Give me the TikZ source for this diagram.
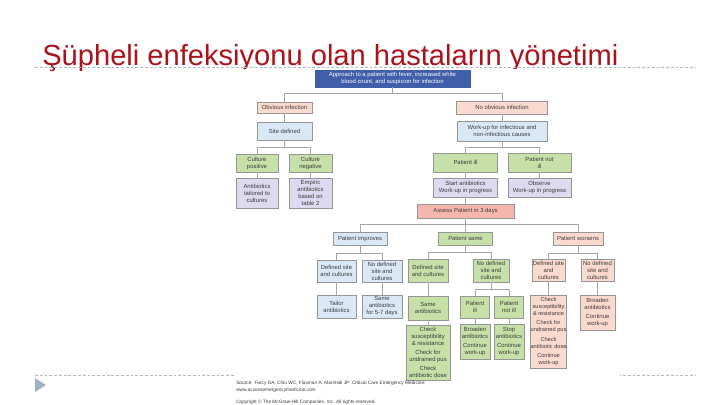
\documentclass[tikz,border=0pt]{standalone}
\usepackage{fontspec}
\setmainfont{Liberation Sans}
\newlength{\unitpx}
\setlength{\unitpx}{0.025cm}
\definecolor{hdblue}{RGB}{64,94,170}
\definecolor{peach}{RGB}{250,218,206}
\definecolor{paleblue}{RGB}{218,232,246}
\definecolor{leaf}{RGB}{198,224,168}
\definecolor{lilac}{RGB}{220,218,238}
\definecolor{salmon}{RGB}{245,183,172}
\definecolor{edge}{RGB}{150,150,150}
\definecolor{wire}{RGB}{165,165,165}
\definecolor{ink}{RGB}{60,60,60}
\definecolor{titlered}{RGB}{172,18,26}
\definecolor{rulegray}{RGB}{175,185,195}
\definecolor{bullet}{RGB}{160,178,198}
\tikzset{
    box/.style={draw=edge, line width=0.35pt, inner sep=0pt, align=center, text=ink, font=\fontsize{4.2}{5}\selectfont},
    tight/.style={font=\fontsize{4}{5}\selectfont},
    wh/.style 2 args={minimum width=#1\unitpx, minimum height=#2\unitpx},
    link/.style={wire, line width=0.4pt},
    slide rule/.style={rulegray, line width=0.5pt, dash pattern=on 2pt off 1.4pt}
}
\begin{document}
\begin{tikzpicture}[x=0.025cm, y=-0.025cm]
\useasboundingbox (0,0) rectangle (720,405);
\fill[white] (0,0) rectangle (720,405);

% slide title and rules
\node[anchor=base west, inner sep=0, text=titlered, font=\fontsize{20.7}{24}\selectfont] (title) at (42,66) {Şüpheli enfeksiyonu olan hastaların yönetimi};
\draw[slide rule] (35,67) -- (695,67);
\draw[slide rule] (35,375) -- (695,375);
\fill[bullet] (35,378) -- (35,392) -- (46,385) -- cycle;
\fill[white] (234,69) rectangle (620,405);

% flowchart
\node[box, wh={155}{17}, fill=hdblue, text=white, draw=hdblue] (top) at (392.5,78.5) {Approach to a patient with fever, increased white\\blood count, and suspicion for infection};
\node[box, wh={55}{11}, fill=peach] (obv) at (284.5,107.5) {Obvious infection};
\node[box, wh={55}{18}, fill=paleblue] (site) at (284.5,131) {Site defined};
\node[box, wh={42}{18}, fill=leaf] (cpos) at (257,163) {Culture\\positive};
\node[box, wh={43}{18}, fill=leaf] (cneg) at (310.5,163) {Culture\\negative};
\node[box, wh={42}{30}, fill=lilac] (tail) at (257,193) {Antibiotics\\tailored to\\cultures};
\node[box, wh={43}{30}, fill=lilac] (emp) at (310.5,193) {Empiric\\antibiotics\\based on\\table 2};

\node[box, wh={91}{13}, fill=peach] (nobv) at (502,107.5) {No obvious infection};
\node[box, wh={90}{20}, fill=paleblue] (work) at (502,131) {Work-up for infectious and\\non-infectious causes};
\node[box, wh={64}{19}, fill=leaf] (pill) at (465.5,162.5) {Patient ill};
\node[box, wh={63}{19}, fill=leaf] (pnot) at (539.5,162.5) {Patient not\\ill};
\node[box, wh={64}{19}, fill=lilac] (start) at (465.5,187.5) {Start antibiotics\\Work-up in progress};
\node[box, wh={63}{19}, fill=lilac] (obs) at (539.5,187.5) {Observe\\Work-up in progress};
\node[box, wh={97}{14}, fill=salmon] (assess) at (465.5,211) {Assess Patient in 3 days};

\node[box, wh={54}{13}, fill=paleblue] (impr) at (360,238.5) {Patient improves};
\node[box, wh={54}{13}, fill=leaf] (same) at (465.5,238.5) {Patient same};
\node[box, wh={50}{13}, fill=peach] (wors) at (578,238.5) {Patient worsens};

\node[box, wh={39}{22}, fill=paleblue] (idef) at (336.5,271) {Defined site\\and cultures};
\node[box, wh={40}{22}, fill=paleblue] (indef) at (382,271) {No defined\\site and\\cultures};
\node[box, wh={39}{23}, fill=paleblue] (itail) at (336.5,306.5) {Tailor\\antibiotics};
\node[box, wh={40}{23}, fill=paleblue] (isame) at (382,306.5) {Same\\antibiotics\\for 5-7 days};

\node[box, wh={40}{23}, fill=leaf] (sdef) at (428,270.5) {Defined site\\and cultures};
\node[box, wh={36}{23}, fill=leaf] (sndef) at (491,270.5) {No defined\\site and\\cultures};
\node[box, wh={40}{24}, fill=leaf] (ssame) at (428,308) {Same\\antibiotics};
\node[box, wh={44}{55}, fill=leaf] (scheck) at (428,352.5) {Check\\susceptibility\\\& resistance\\[1.5pt]Check for\\undrained pus\\[1.5pt]Check\\antibiotic dose};
\node[box, wh={29}{22}, fill=leaf] (sill) at (475,307) {Patient\\ill};
\node[box, wh={29}{22}, fill=leaf] (snot) at (509,307) {Patient\\not ill};
\node[box, wh={30}{35}, fill=leaf] (sbroad) at (475,341.5) {Broaden\\antibiotics\\[1.5pt]Continue\\work-up};
\node[box, wh={30}{35}, fill=leaf] (sstop) at (509,341.5) {Stop\\antibiotics\\[1.5pt]Continue\\work-up};

\node[box, wh={33}{22}, fill=peach] (wdef) at (548.5,270) {Defined site\\and\\cultures};
\node[box, wh={33}{22}, fill=peach] (wndef) at (597.5,270) {No defined\\site and\\cultures};
\node[box, tight, wh={36}{73}, fill=peach] (wcheck) at (548.5,331.5) {Check\\susceptibility\\\& resistance\\[1.5pt]Check for\\undrained pus\\[1.5pt]Check\\antibiotic dose\\[1.5pt]Continue\\work-up};
\node[box, wh={35}{35}, fill=peach] (wbroad) at (597.5,312.5) {Broaden\\antibiotics\\[1.5pt]Continue\\work-up};

% connectors
\draw[link] (top.south) -- ++(0,6) -| (obv.north);
\draw[link] (top.south) -- ++(0,6) -| (nobv.north);
\draw[link] (obv.south) -- (site.north);
\draw[link] (site.south) -- ++(0,7) -| (cpos.north);
\draw[link] (site.south) -- ++(0,7) -| (cneg.north);
\draw[link] (cpos.south) -- (tail.north);
\draw[link] (cneg.south) -- (emp.north);
\draw[link] (nobv.south) -- (work.north);
\draw[link] (work.south) -- ++(0,6) -| (pill.north);
\draw[link] (work.south) -- ++(0,6) -| (pnot.north);
\draw[link] (pill.south) -- (start.north);
\draw[link] (pnot.south) -- (obs.north);
\draw[link] (start.south) -- (assess.north);
\draw[link] (assess.south) -- ++(0,6) -| (impr.north);
\draw[link] (assess.south) -- (same.north);
\draw[link] (assess.south) -- ++(0,6) -| (wors.north);
\draw[link] (impr.south) -- ++(0,8) -| (idef.north);
\draw[link] (impr.south) -- ++(0,8) -| (indef.north);
\draw[link] (idef.south) -- (itail.north);
\draw[link] (indef.south) -- (isame.north);
\draw[link] (same.south) -- ++(0,7) -| (sdef.north);
\draw[link] (same.south) -- ++(0,7) -| (sndef.north);
\draw[link] (sdef.south) -- (ssame.north);
\draw[link] (ssame.south) -- (scheck.north);
\draw[link] (sndef.south) -- ++(0,7) -| (sill.north);
\draw[link] (sndef.south) -- ++(0,7) -| (snot.north);
\draw[link] (sill.south) -- (sbroad.north);
\draw[link] (snot.south) -- (sstop.north);
\draw[link] (wors.south) -- ++(0,8) -| (wdef.north);
\draw[link] (wors.south) -- ++(0,8) -| (wndef.north);
\draw[link] (wdef.south) -- (wcheck.north);
\draw[link] (wndef.south) -- (wbroad.north);

% source lines
\node[anchor=north west, inner sep=0, align=left, text=ink, font=\fontsize{3.4}{4.6}\selectfont] (src) at (236,381) {Source: Farcy DA, Chiu WC, Flaxman A, Marshall JP: Critical Care Emergency Medicine:\\www.accessemergencymedicine.com};
\node[anchor=west, inner sep=0, text=ink, font=\fontsize{3.4}{4.6}\selectfont] (copy) at (236,402) {Copyright \textcopyright{} The McGraw-Hill Companies, Inc. All rights reserved.};
\end{tikzpicture}
\end{document}
